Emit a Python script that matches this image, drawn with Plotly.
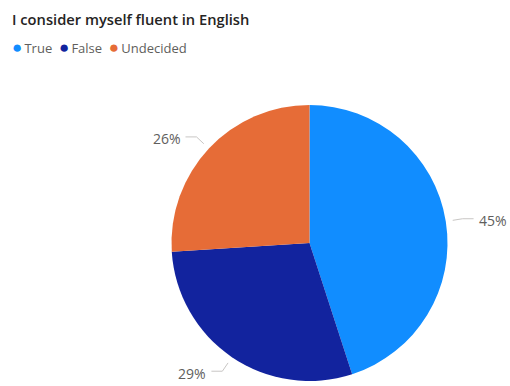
import math
import plotly.graph_objects as go

# Survey answers and their shares (%)
categories = ["True", "False", "Undecided"]
shares = [45, 29, 26]
colors = ["#118DFF", "#12239E", "#E66C37"]

title_text = "I consider myself fluent in English"

W, H = 510, 386
dom_x = [171 / W, 448 / W]
dom_y = [5 / H, 281 / H]

fig = go.Figure(
    go.Pie(
        labels=categories,
        values=shares,
        marker=dict(colors=colors, line=dict(width=0)),
        sort=False,
        direction="clockwise",
        rotation=0,
        textinfo="none",
        hoverinfo="label+percent",
        showlegend=False,
        domain=dict(x=dom_x, y=dom_y),
    )
)

# Leader lines and outside percentage labels, placed from each slice's mid angle
cx = (dom_x[0] + dom_x[1]) / 2 * W
cy = (dom_y[0] + dom_y[1]) / 2 * H
r = min((dom_x[1] - dom_x[0]) * W, (dom_y[1] - dom_y[0]) * H) / 2
total = sum(shares)

shapes = []
annotations = []
cum = 0.0
for cat, val in zip(categories, shares):
    mid = (cum + val / 2) / total * 2 * math.pi
    cum += val
    sx, sy = math.sin(mid), math.cos(mid)
    side = 1 if sx >= 0 else -1
    x0, y0 = cx + (r + 7) * sx, cy + (r + 7) * sy
    x1, y1 = cx + (r + 17) * sx, cy + (r + 17) * sy
    x2, y2 = x1 + side * 11, y1
    path = "M {:.4f},{:.4f} L {:.4f},{:.4f} L {:.4f},{:.4f}".format(
        x0 / W, y0 / H, x1 / W, y1 / H, x2 / W, y2 / H
    )
    shapes.append(
        dict(type="path", xref="paper", yref="paper", path=path,
             line=dict(color="#C8C6C4", width=1))
    )
    pct = round(val / total * 100)
    annotations.append(
        dict(
            x=(x2 + side * 3) / W, y=(y2 - 2) / H, xref="paper", yref="paper",
            text=f"{pct}%", showarrow=False,
            xanchor="left" if side > 0 else "right", yanchor="middle",
            font=dict(family="Open Sans", size=14, color="#605E5C"),
        )
    )

# Legend row with round colour dots
legend_html = "&nbsp;&nbsp;".join(
    f"<span style='color:{c};font-size:17px'>●</span>&#8201;{name}"
    for name, c in zip(categories, colors)
)
annotations.append(
    dict(
        x=10 / W, y=1 - 47 / H, xref="paper", yref="paper",
        text=legend_html, showarrow=False, xanchor="left", yanchor="middle",
        font=dict(family="Open Sans", size=13, color="#605E5C"),
    )
)

fig.update_layout(
    width=W, height=H,
    margin=dict(l=0, r=0, t=0, b=0),
    paper_bgcolor="white", plot_bgcolor="white",
    title=dict(
        text=title_text, x=12 / W, xanchor="left", y=1 - 20 / H, yanchor="middle",
        xref="container", yref="container",
        font=dict(family="Open Sans", size=14.7, color="#252423", weight=600),
    ),
    shapes=shapes,
    annotations=annotations,
)

fig.write_html("out.html")
